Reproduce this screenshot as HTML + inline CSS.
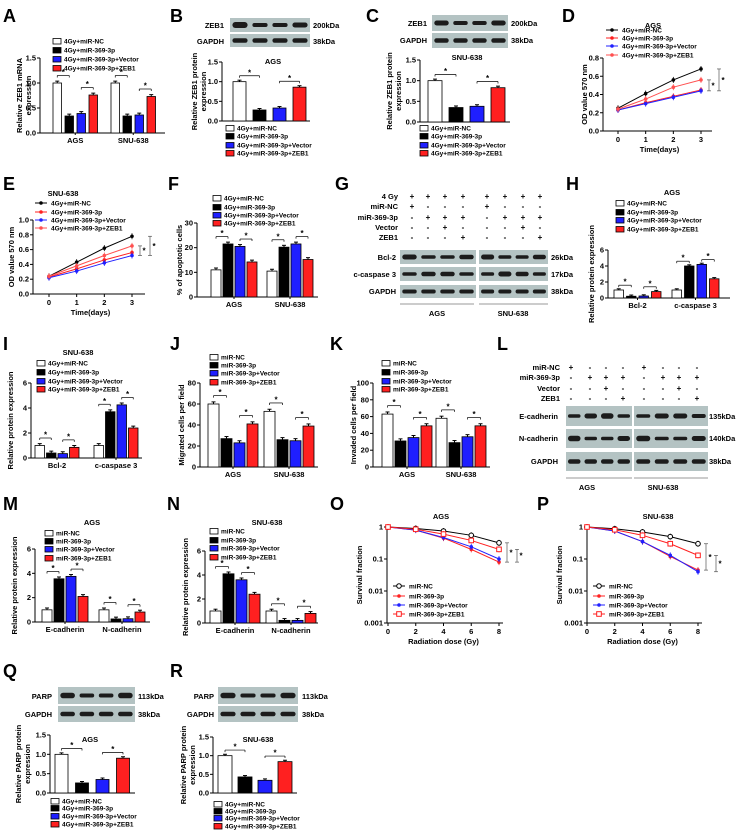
<!DOCTYPE html>
<html><head><meta charset="utf-8"><style>
html,body{margin:0;padding:0;background:#fff}
svg{display:block;font-family:"Liberation Sans",Arial,sans-serif;font-weight:bold}
</style></head><body>
<svg id="fig" width="739" height="830" viewBox="0 0 739 830"></svg>
<script>
// ---------- DATA ----------
const legend4Gy=['4Gy+miR-NC','4Gy+miR-369-3p','4Gy+miR-369-3p+Vector','4Gy+miR-369-3p+ZEB1'];
const legendMi=['miR-NC','miR-369-3p','miR-369-3p+Vector','miR-369-3p+ZEB1'];
const catsCell=['AGS','SNU-638'];
const catsBcl=['Bcl-2','c-caspase 3'];
const catsCad=['E-cadherin','N-cadherin'];
const aValsAGS=[1.0,0.34,0.39,0.76];
const aValsSNU=[1.0,0.34,0.36,0.73];
const bVals=[1.0,0.28,0.33,0.86];
const cVals=[1.0,0.35,0.38,0.83];
const fValsAGS=[11,21.5,20.5,14.2];
const fValsSNU=[10.5,20.2,21.5,15.2];
const hValsBcl=[1.0,0.22,0.25,0.8];
const hValsCas=[1.0,4.0,4.2,2.4];
const iValsBcl=[1.0,0.4,0.35,0.85];
const iValsCas=[1.0,3.7,4.25,2.4];
const jValsAGS=[60,27,23,41];
const jValsSNU=[53,26,25,39];
const kValsAGS=[63,31,35,49];
const kValsSNU=[58,29,36,49];
const mValsE=[1.0,3.55,3.75,2.1];
const mValsN=[1.0,0.25,0.27,0.82];
const nValsE=[1.0,4.1,3.6,2.4];
const nValsN=[1.0,0.22,0.22,0.8];
const qVals=[1.0,0.26,0.35,0.9];
const rVals=[1.0,0.43,0.34,0.84];
const tickP15=[0,0.5,1.0,1.5]; const tickP15L=['0.0','0.5','1.0','1.5'];
const tickP6=[0,2,4,6]; const tickP6L=['0','2','4','6'];
const tickF=[0,10,20,30]; const tickFL=['0','10','20','30'];
const tickJ=[0,20,40,60,80]; const tickJL=['0','20','40','60','80'];
const tickK=[0,20,40,60,80,100]; const tickKL=['0','20','40','60','80','100'];
const tickD=[0,0.2,0.4,0.6,0.8]; const tickDL=['0.0','0.2','0.4','0.6','0.8'];
const tickE=[0,0.2,0.4,0.6,0.8,1.0]; const tickEL=['0.0','0.2','0.4','0.6','0.8','1.0'];
const daysX=[0,1,2,3];
const dNC=[0.25,0.41,0.56,0.68];
const d369=[0.23,0.31,0.38,0.45];
const dVec=[0.23,0.30,0.37,0.44];
const dZEB=[0.24,0.35,0.48,0.56];
const eNC=[0.24,0.43,0.62,0.78];
const e369=[0.23,0.34,0.46,0.56];
const eVec=[0.22,0.31,0.42,0.52];
const eZEB=[0.24,0.38,0.52,0.65];
const doseX=[0,2,4,6,8];
const doseTicks=[0,2,4,6,8];
const logTicks=[1,0.1,0.01,0.001]; const logTickL=['1','0.1','0.01','0.001'];
const oNC=[1,0.9,0.75,0.55,0.32];
const o369=[1,0.8,0.45,0.2,0.08];
const oVec=[1,0.8,0.47,0.24,0.1];
const oZEB=[1,0.85,0.6,0.38,0.2];
const pNC=[1,0.88,0.7,0.5,0.3];
const p369=[1,0.75,0.35,0.12,0.045];
const pVec=[1,0.75,0.35,0.13,0.04];
const pZEB=[1,0.82,0.55,0.3,0.13];

const COL=['#ffffff','#000000','#1f1fff','#ff2020'];
const NS='http://www.w3.org/2000/svg';
const svg=document.getElementById('fig');
function mk(tag,attrs,parent){const e=document.createElementNS(NS,tag);for(const k in attrs)e.setAttribute(k,attrs[k]);(parent||svg).appendChild(e);return e;}
function ln(x1,y1,x2,y2,par,col,w){return mk('line',{x1:x1,y1:y1,x2:x2,y2:y2,stroke:col||'#000','stroke-width':w||1},par);}
function tx(x,y,s,size,anchor,par,rot){const t=mk('text',{x:x,y:y,'font-size':size,'text-anchor':anchor||'start'},par);if(rot)t.setAttribute('transform','rotate(-90 '+x+' '+y+')');t.textContent=s;return t;}

function letter(s,x,y){const t=tx(x,y,s,18,'start');

}

function ylabel(lines,xs,yc,par){lines.forEach((s,i)=>{const t=tx(xs[i],yc,s,7.5,'middle',par,true);

});}

function legend(par,x,ys,labels,size){labels.forEach((s,i)=>{const g=mk('g',{},par);


mk('rect',{x:x,y:ys[i]-2.5,width:8,height:5.5,fill:COL[i],stroke:'#000','stroke-width':0.8},g);
tx(x+11,ys[i]+2.5,s,size||6.5,'start',g);});}

function barPanel(p){
 const g=mk('g',{});
 
 
 const ys=v=>p.y0-(v/p.vmax)*(p.y0-p.yTop);
 ln(p.ax,p.yTop,p.ax,p.y0,g); ln(p.ax,p.y0,p.xEnd,p.y0,g);
 p.ticks.forEach((t,i)=>{ln(p.ax-3,ys(t),p.ax,ys(t),g);tx(p.ax-4,ys(t)+2.5,p.tickL[i],7.5,'end',g);});
 p.groups.forEach((gx,gi)=>{
  const vals=p.vals[gi];
  vals.forEach((v,i)=>{const x=gx+i*p.step;
   const r=mk('rect',{x:x,y:ys(v),width:p.bw,height:p.y0-ys(v),fill:COL[i],stroke:'#000','stroke-width':0.8},g);
   
   
   const e=p.vmax*0.025; ln(x+p.bw/2,ys(v),x+p.bw/2,ys(v+e),g); ln(x+p.bw/2-2,ys(v+e),x+p.bw/2+2,ys(v+e),g);});
  const cx=gx+(3*p.step+p.bw)/2;
  if(p.cats){ln(cx,p.y0,cx,p.y0+2,g);const c=tx(cx,p.y0+10,p.cats[gi],7.5,'middle',g);
  
  }
  [[0,1],[2,3]].forEach(([a,b])=>{const xa=gx+a*p.step+p.bw/2,xb=gx+b*p.step+p.bw/2;
   const top=ys(Math.max(vals[a],vals[b])+p.vmax*0.1);
   ln(xa,top,xb,top,g,'#000',0.7);ln(xa,top,xa,top+2,g,'#000',0.7);ln(xb,top,xb,top+2,g,'#000',0.7);
   tx((xa+xb)/2,top-0.5,'*',8,'middle',g);});
 });
 ylabel(p.yl,p.ylx,(p.yTop+p.y0)/2,g);
 if(p.title){const t=tx(p.title[1],p.title[2],p.title[0],7.5,'middle',g);
 
 }
 legend(g,p.lx,p.lys,p.legend);
}

function blot(x,y,w,h,lanes,par,name){const g=mk('g',{},par);
 
 
 mk('rect',{x:x,y:y,width:w,height:h,fill:'#b4c3c3'},g);
 const lw=w/lanes.length;
 lanes.forEach((t,i)=>{mk('rect',{x:x+i*lw+lw*0.12,y:y+h/2-t/2,width:lw*0.76,height:t,rx:t/2,fill:'#1c1c1c'},g);});}

function linePanel(p){
 const g=mk('g',{});
 
 
 const xs=v=>p.x0+(v-p.xmin)/(p.xmax-p.xmin)*(p.x1-p.x0);
 const ys=p.log?(v=>p.y0+(Math.log10(v)+3)/3*(p.yTop-p.y0)):(v=>p.y0-(v/p.vmax)*(p.y0-p.yTop));
 ln(p.ax,p.yTop,p.ax,p.y0,g); ln(p.ax,p.y0,p.xEnd,p.y0,g);
 p.ticks.forEach((t,i)=>{ln(p.ax-3,ys(t),p.ax,ys(t),g);tx(p.ax-4,ys(t)+2.5,p.tickL[i],7.5,'end',g);});
 p.xt.forEach(t=>{ln(xs(t),p.y0,xs(t),p.y0+3,g);tx(xs(t),p.y0+11,String(t),7.5,'middle',g);});
 const xl=tx((p.x0+p.x1)/2,p.y0+21,p.xlabel,7.5,'middle',g);
 
 
 const cols=['#000','#ff2020','#2020ff',p.log?'#ff2020':'#ff5050'];
 p.series.forEach((s,si)=>{
  const pts=s.map((v,i)=>xs(p.xv[i])+','+ys(v)).join(' ');
  const pl=mk('polyline',{points:pts,fill:'none',stroke:cols[si],'stroke-width':1},g);
  
  
  s.forEach((v,i)=>{const cx=xs(p.xv[i]),cy=ys(v);
   ln(cx,cy-3,cx,cy+3,g,cols[si],0.8);
   let m;
   if(p.log&&si===0)m=mk('circle',{cx:cx,cy:cy,r:2.3,fill:'#fff',stroke:'#000'},g);
   else if(p.log&&si===3)m=mk('rect',{x:cx-2.3,y:cy-2.3,width:4.6,height:4.6,fill:'#fff',stroke:'#ff2020'},g);
   else m=mk('circle',{cx:cx,cy:cy,r:1.8,fill:cols[si]},g);
   
   });
 });
 ylabel(p.yl,p.ylx,(p.yTop+p.y0)/2,g);
 const t=tx(p.title[1],p.title[2],p.title[0],7.5,'middle',g);
 
 
 p.legend.forEach((s,i)=>{const y=p.lys[i];
  ln(p.lx-6,y,p.lx+6,y,g,cols[i]);
  if(p.log&&i===0)mk('circle',{cx:p.lx,cy:y,r:2.3,fill:'#fff',stroke:'#000'},g);
  else if(p.log&&i===3)mk('rect',{x:p.lx-2.3,y:y-2.3,width:4.6,height:4.6,fill:'#fff',stroke:'#ff2020'},g);
  else mk('circle',{cx:p.lx,cy:y,r:1.8,fill:cols[i]},g);
  const l=tx(p.lx+10,y+2.5,s,6.5,'start',g);
  
  });
 // significance brackets
 const lastX=xs(p.xv[p.xv.length-1]);
 p.sig.forEach((pr,k)=>{const xb=lastX+8+k*10,ya=ys(p.series[pr[0]].slice(-1)[0]),yb=ys(p.series[pr[1]].slice(-1)[0]);
  ln(xb,ya,xb,yb,g,'#555',0.7);ln(xb-2,ya,xb+2,ya,g,'#555',0.7);ln(xb-2,yb,xb+2,yb,g,'#555',0.7);
  tx(xb+4,(ya+yb)/2+3,'*',8,'middle',g);});
}

function table(rows,rowYs,labelX,colXs,signs,par){rows.forEach((r,i)=>{
 const t=tx(labelX,rowYs[i]+3,r,7.5,'end',par);
 
 
 signs[i].forEach((s,j)=>tx(colXs[j],rowYs[i]+3,s,8,'middle',par));});}

// ---------- PANELS ----------
['A',3,22,'B',170,22,'C',366,22,'D',562,22,'E',3,190,'F',168,190,'G',335,190,'H',566,190,'I',3,350,'J',170,350,'K',330,350,'L',497,350,'M',3,510,'N',167,510,'O',330,510,'P',537,510,'Q',3,677,'R',170,677].reduce((a,v,i,arr)=>{if(i%3===0)letter(arr[i],arr[i+1],arr[i+2]);return a;},0);

barPanel({name:'panel-a-chart',ax:40,y0:133,yTop:58,vmax:1.5,ticks:tickP15,tickL:tickP15L,xEnd:165,groups:[53,111],step:12,bw:8.5,vals:[aValsAGS,aValsSNU],cats:catsCell,yl:['Relative ZEB1 mRNA','expression'],ylx:[22,31],lx:53,lys:[41,50,59,68],legend:legend4Gy});

const gB=mk('g',{});  
blot(230,18,80,14,[6,4,4,5],gB,'zeb1-band-row'); blot(230,34,80,13,[4.5,4.5,4.5,4.5],gB,'gapdh-band-row');
tx(224,28,'ZEB1',7.5,'end',gB); tx(224,44,'GAPDH',7.5,'end',gB); tx(313,28,'200kDa',7.5,'start',gB); tx(313,44,'38kDa',7.5,'start',gB);
barPanel({name:'panel-b-chart',ax:222,y0:121,yTop:62,vmax:1.5,ticks:tickP15,tickL:tickP15L,xEnd:310,groups:[233],step:20,bw:13,vals:[bVals],yl:['Relative ZEB1 protein','expression'],ylx:[197,206],title:['AGS',273,64],lx:226,lys:[128,136,145,153],legend:legend4Gy});

const gC=mk('g',{});  
blot(432,15,76,16,[5,4,4,5],gC,'zeb1-band-row'); blot(432,33,76,15,[4.5,4.5,4.5,4.5],gC,'gapdh-band-row');
tx(427,26,'ZEB1',7.5,'end',gC); tx(427,43,'GAPDH',7.5,'end',gC); tx(511,26,'200kDa',7.5,'start',gC); tx(511,43,'38kDa',7.5,'start',gC);
barPanel({name:'panel-c-chart',ax:420,y0:122,yTop:60,vmax:1.5,ticks:tickP15,tickL:tickP15L,xEnd:510,groups:[428],step:21,bw:14,vals:[cVals],yl:['Relative ZEB1 protein','expression'],ylx:[392,401],title:['SNU-638',467,60],lx:420,lys:[128,136,145,153],legend:legend4Gy});

linePanel({name:'panel-d-chart',ax:603,y0:131,yTop:58,vmax:0.8,ticks:tickD,tickL:tickDL,x0:618,x1:701,xmin:0,xmax:3,xEnd:712,xt:daysX,xv:daysX,series:[dNC,d369,dVec,dZEB],xlabel:'Time(days)',yl:['OD value 570 nm'],ylx:[587],title:['AGS',653,28],lx:612,lys:[30,38,46,55],legend:legend4Gy,sig:[[3,2],[0,2]]});

linePanel({name:'panel-e-chart',ax:33,y0:294,yTop:220,vmax:1.0,ticks:tickE,tickL:tickEL,x0:49,x1:132,xmin:0,xmax:3,xEnd:145,xt:daysX,xv:daysX,series:[eNC,e369,eVec,eZEB],xlabel:'Time(days)',yl:['OD value 570 nm'],ylx:[14],title:['SNU-638',63,196],lx:41,lys:[203,212,220,228],legend:legend4Gy,sig:[[3,2],[0,2]]});

barPanel({name:'panel-f-chart',ax:197,y0:297,yTop:223,vmax:30,ticks:tickF,tickL:tickFL,xEnd:318,groups:[211,267],step:12,bw:10,vals:[fValsAGS,fValsSNU],cats:catsCell,yl:['% of apoptotic cells'],ylx:[182],lx:213,lys:[198,207,215,223],legend:legend4Gy});

const gG=mk('g',{});  
table(['4 Gy','miR-NC','miR-369-3p','Vector','ZEB1'],[196,206,217,227,237],398,[412,428,445,463,487,505,523,540],
[['+','+','+','+','+','+','+','+'],['+','-','-','-','+','-','-','-'],['-','+','+','+','-','+','+','+'],['-','-','+','-','-','-','+','-'],['-','-','-','+','-','-','-','+']],gG);
blot(400,250,76,14,[5,3.5,3.5,4.5],gG,'bcl2-ags'); blot(479,250,69,14,[5,3.5,3.5,4.5],gG,'bcl2-snu');
blot(400,267,76,14,[3.5,4.5,4.5,3.5],gG,'caspase-ags'); blot(479,267,69,14,[3.5,5,4.5,3.5],gG,'caspase-snu');
blot(400,285,76,13,[4,4,4,4],gG,'gapdh-ags'); blot(479,285,69,13,[4,4,4,4],gG,'gapdh-snu');
tx(396,260,'Bcl-2',7.5,'end',gG); tx(396,277,'c-caspase 3',7.5,'end',gG); tx(396,294,'GAPDH',7.5,'end',gG);
tx(551,260,'26kDa',7.5,'start',gG); tx(551,277,'17kDa',7.5,'start',gG); tx(551,294,'38kDa',7.5,'start',gG);
ln(400,304,474,304,gG,'#777',0.8); ln(479,304,548,304,gG,'#777',0.8);
tx(437,316,'AGS',7.5,'middle',gG); tx(513,316,'SNU-638',7.5,'middle',gG);

barPanel({name:'panel-h-chart',ax:608,y0:298,yTop:250,vmax:6,ticks:tickP6,tickL:tickP6L,xEnd:730,groups:[614,672],step:12.5,bw:9.5,vals:[hValsBcl,hValsCas],cats:catsBcl,yl:['Relative protein expression'],ylx:[594],title:['AGS',672,195],lx:616,lys:[203,212,220,229],legend:legend4Gy});

barPanel({name:'panel-i-chart',ax:31,y0:458,yTop:383,vmax:6,ticks:tickP6,tickL:tickP6L,xEnd:142,groups:[35,94],step:11.5,bw:9.5,vals:[iValsBcl,iValsCas],cats:catsBcl,yl:['Relative protein expression'],ylx:[13],title:['SNU-638',78,355],lx:37,lys:[363,372,381,389],legend:legend4Gy});

barPanel({name:'panel-j-chart',ax:200,y0:467,yTop:383,vmax:80,ticks:tickJ,tickL:tickJL,xEnd:318,groups:[208,264],step:13,bw:11,vals:[jValsAGS,jValsSNU],cats:catsCell,yl:['Migrated cells per field'],ylx:[184],lx:210,lys:[357,365,373,382],legend:legendMi});

barPanel({name:'panel-k-chart',ax:373,y0:467,yTop:383,vmax:100,ticks:tickK,tickL:tickKL,xEnd:490,groups:[382,436],step:13,bw:11,vals:[kValsAGS,kValsSNU],cats:catsCell,yl:['Invaded cells per field'],ylx:[356],lx:382,lys:[363,372,381,389],legend:legendMi});

const gL=mk('g',{});  
table(['miR-NC','miR-369-3p','Vector','ZEB1'],[367,377,388,398],560,[571,590,606,623,644,663,679,697],
[['+','-','-','-','+','-','-','-'],['-','+','+','+','-','+','+','+'],['-','-','+','-','-','-','+','-'],['-','-','-','+','-','-','-','+']],gL);
blot(566,406,66,20,[3.5,5,5.5,3.5],gL,'ecadherin-ags'); blot(634,406,74,20,[3.5,5,5,4],gL,'ecadherin-snu');
blot(566,429,66,19,[5.5,3.5,3.5,5],gL,'ncadherin-ags'); blot(634,429,74,19,[5.5,3.5,3.5,5],gL,'ncadherin-snu');
blot(566,452,66,19,[4.5,4.5,4.5,4.5],gL,'gapdh-ags'); blot(634,452,74,19,[4.5,4.5,4.5,4.5],gL,'gapdh-snu');
tx(558,419,'E-cadherin',7.5,'end',gL); tx(558,441,'N-cadherin',7.5,'end',gL); tx(558,464,'GAPDH',7.5,'end',gL);
tx(709,419,'135kDa',7.5,'start',gL); tx(709,441,'140kDa',7.5,'start',gL); tx(709,464,'38kDa',7.5,'start',gL);
ln(566,478,632,478,gL,'#777',0.8); ln(634,478,708,478,gL,'#777',0.8);
tx(587,490,'AGS',7.5,'middle',gL); tx(663,490,'SNU-638',7.5,'middle',gL);

barPanel({name:'panel-m-chart',ax:35,y0:622,yTop:549,vmax:6,ticks:tickP6,tickL:tickP6L,xEnd:150,groups:[42,99],step:12,bw:10,vals:[mValsE,mValsN],cats:catsCad,yl:['Relative protein expression'],ylx:[17],title:['AGS',92,525],lx:45,lys:[533,541,549,558],legend:legendMi});

barPanel({name:'panel-n-chart',ax:205,y0:623,yTop:551,vmax:6,ticks:tickP6,tickL:tickP6L,xEnd:318,groups:[210,266],step:13,bw:11,vals:[nValsE,nValsN],cats:catsCad,yl:['Relative protein expression'],ylx:[188],title:['SNU-638',267,525],lx:210,lys:[531,540,548,557],legend:legendMi});

linePanel({name:'panel-o-chart',log:true,ax:387,y0:623,yTop:527,ticks:logTicks,tickL:logTickL,x0:388,x1:499,xmin:0,xmax:8,xEnd:503,xt:doseTicks,xv:doseX,series:[oNC,o369,oVec,oZEB],xlabel:'Radiation dose (Gy)',yl:['Survival fraction'],ylx:[362],title:['AGS',441,519],lx:399,lys:[586,596,605,614],legend:legendMi,sig:[[0,1],[3,1]]});

linePanel({name:'panel-p-chart',log:true,ax:587,y0:623,yTop:527,ticks:logTicks,tickL:logTickL,x0:587,x1:698,xmin:0,xmax:8,xEnd:702,xt:doseTicks,xv:doseX,series:[pNC,p369,pVec,pZEB],xlabel:'Radiation dose (Gy)',yl:['Survival fraction'],ylx:[562],title:['SNU-638',658,519],lx:599,lys:[586,596,605,614],legend:legendMi,sig:[[0,1],[3,2]]});

const gQ=mk('g',{});  
blot(58,687,77,17,[5.5,4,4,5.5],gQ,'parp-band-row'); blot(58,706,77,16,[4.5,4.5,4.5,4.5],gQ,'gapdh-band-row');
tx(52,699,'PARP',7.5,'end',gQ); tx(52,717,'GAPDH',7.5,'end',gQ); tx(138,699,'113kDa',7.5,'start',gQ); tx(138,717,'38kDa',7.5,'start',gQ);
barPanel({name:'panel-q-chart',ax:50,y0:793,yTop:735,vmax:1.5,ticks:tickP15,tickL:tickP15L,xEnd:135,groups:[55],step:20.5,bw:13,vals:[qVals],yl:['Relative PARP protein','expression'],ylx:[21,30],title:['AGS',90,742],lx:51,lys:[801,808,816,824],legend:legend4Gy});

const gR=mk('g',{});  
blot(218,687,80,17,[5.5,4,4,5.5],gR,'parp-band-row'); blot(218,706,80,16,[4.5,4.5,4.5,4.5],gR,'gapdh-band-row');
tx(214,699,'PARP',7.5,'end',gR); tx(214,717,'GAPDH',7.5,'end',gR); tx(302,699,'113kDa',7.5,'start',gR); tx(302,717,'38kDa',7.5,'start',gR);
barPanel({name:'panel-r-chart',ax:213,y0:793,yTop:737,vmax:1.5,ticks:tickP15,tickL:tickP15L,xEnd:297,groups:[218],step:20,bw:14,vals:[rVals],yl:['Relative PARP protein','expression'],ylx:[186,195],title:['SNU-638',258,742],lx:214,lys:[804,811,818,826],legend:legend4Gy});
</script>
</body></html>
